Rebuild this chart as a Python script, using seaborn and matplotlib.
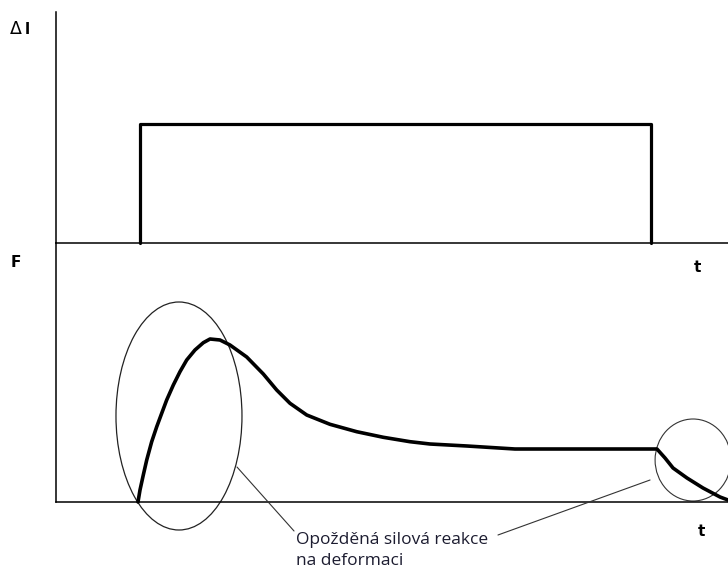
import matplotlib
matplotlib.use("Agg")
import matplotlib.pyplot as plt
from matplotlib.patches import Ellipse
import seaborn as sns
import pandas as pd

# ---- data ----
pulse_t = [1.25, 1.25, 8.854, 8.854]
pulse_dl = [0.0, 1.0, 1.0, 0.0]

force_t = [1.220, 1.250, 1.299, 1.350, 1.424, 1.499, 1.573, 1.647, 1.746, 1.845,
           1.945, 2.068, 2.192, 2.292, 2.440, 2.589, 2.838, 3.085, 3.284, 3.482,
           3.731, 4.077, 4.475, 4.871, 5.268, 5.565, 6.116, 6.830, 8.943, 9.063,
           9.182, 9.390, 9.628, 9.881, 10.0]
force_F = [0.00, 0.12, 0.27, 0.42, 0.603, 0.753, 0.887, 1.02, 1.17, 1.303,
           1.42, 1.52, 1.593, 1.63, 1.62, 1.57, 1.45, 1.28, 1.12, 0.987,
           0.87, 0.777, 0.703, 0.647, 0.603, 0.58, 0.56, 0.53, 0.53, 0.44,
           0.34, 0.24, 0.14, 0.05, 0.02]

label_top_y = "Δ"
label_top_y2 = "l"
label_bot_y = "F"
label_x = "t"
note_text = "Opožděná silová reakce\nna deformaci"

sns.set_style("white")
plt.rcParams["font.family"] = ["DejaVu Sans"]

W, H = 728, 574
fig = plt.figure(figsize=(W / 100, H / 100), dpi=100)
fig.patch.set_facecolor("white")

ax_top = fig.add_axes([56 / W, (H - 243) / H, 672 / W, 231 / H])
ax_bot = fig.add_axes([56 / W, (H - 502) / H, 672 / W, 259 / H])

for ax in (ax_top, ax_bot):
    ax.set_facecolor("none")
    for s in ("top", "right"):
        ax.spines[s].set_visible(False)
    for s in ("left", "bottom"):
        ax.spines[s].set_visible(True)
        ax.spines[s].set_color("black")
        ax.spines[s].set_linewidth(1.1)
    ax.set_xticks([])
    ax.set_yticks([])
    ax.set_xlim(0, 10)

ax_top.set_ylim(0, 231 / 119)
ax_bot.set_ylim(0, 2.59)

df_pulse = pd.DataFrame({"t": pulse_t, "dl": pulse_dl})
sns.lineplot(data=df_pulse, x="t", y="dl", ax=ax_top, sort=False, estimator=None,
             color="black", linewidth=2.3, clip_on=False)

df_force = pd.DataFrame({"t": force_t, "F": force_F})
sns.lineplot(data=df_force, x="t", y="F", ax=ax_bot, sort=False, estimator=None,
             color="black", linewidth=2.6, clip_on=False,
             solid_joinstyle="round", solid_capstyle="round")

for ax in (ax_top, ax_bot):
    ax.set_xlabel("")
    ax.set_ylabel("")

# annotations: ellipses around delayed force response
e1 = Ellipse((1.83, 0.86), 1.875, 2.28, fill=False, edgecolor="#222222",
             linewidth=0.9, clip_on=False)
e2 = Ellipse((9.48, 0.42), 1.13, 0.82, fill=False, edgecolor="#333333",
             linewidth=0.8, clip_on=False)
ax_bot.add_patch(e1)
ax_bot.add_patch(e2)

# leader lines
ax_bot.annotate("", xy=(2.693, 0.35), xytext=(3.542, -0.29),
                arrowprops=dict(arrowstyle="-", color="#333333", linewidth=0.8,
                                shrinkA=0, shrinkB=0), annotation_clip=False)
ax_bot.annotate("", xy=(8.84, 0.22), xytext=(6.577, -0.33),
                arrowprops=dict(arrowstyle="-", color="#333333", linewidth=0.8,
                                shrinkA=0, shrinkB=0), annotation_clip=False)

ax_bot.text(3.57, -0.30, note_text, ha="left", va="top", fontsize=12.5,
            family="Open Sans", color="#1c1c30", linespacing=1.4, clip_on=False)

# axis labels
fig.text(10 / W, 1 - 34 / H, label_top_y, fontsize=12.5, ha="left", va="baseline",
         color="black")
fig.text(25 / W, 1 - 34 / H, label_top_y2, fontsize=11, ha="left", va="baseline",
         color="black", fontweight="bold")
fig.text(11 / W, 1 - 267 / H, label_bot_y, fontsize=11, ha="left", va="baseline",
         color="black", fontweight="bold")
fig.text(694 / W, 1 - 272 / H, label_x, fontsize=11, ha="left", va="baseline",
         color="black", fontweight="bold")
fig.text(698 / W, 1 - 536 / H, label_x, fontsize=11, ha="left", va="baseline",
         color="black", fontweight="bold")

fig.savefig("out.png", dpi=100, facecolor="white")
